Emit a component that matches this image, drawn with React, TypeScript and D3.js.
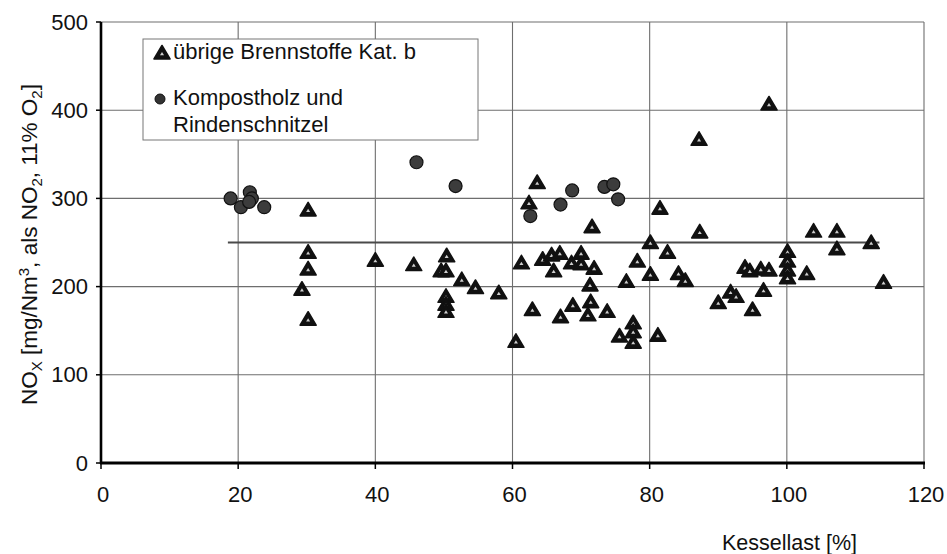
import React from "react";
import * as d3 from "d3";

// ---- data ----
const xTicks = [0, 20, 40, 60, 80, 100, 120];
const yTicks = [0, 100, 200, 300, 400, 500];

// übrige Brennstoffe Kat. b (triangles)
const triX = [
  30.2, 30.2, 30.2, 29.3, 30.2,
  40, 45.6, 50.4, 49.6, 50.3, 52.6, 54.6, 58,
  50.3, 50.3, 50.3,
  60.5, 61.3, 62.9, 63.6, 62.4,
  64.4, 65.7, 66.9, 66, 68.6, 70, 70,
  67, 68.8, 71.3, 71.4, 71, 73.8, 71.9, 71.6,
  76.6, 78.2, 75.6, 77.6, 77.6, 77.6, 81.2,
  80.1, 80.1, 82.6, 81.5, 84.2, 85.2, 87.3, 87.2,
  90, 91.8, 92.6, 95, 96.6,
  93.9, 94.6, 96.2, 97.4, 97.4,
  100.1, 100.1, 100.1, 100.1, 102.9,
  103.9, 107.3, 107.3, 112.3, 114.1,
];
const triY = [
  287, 239, 220, 197, 163,
  230, 225, 235, 218, 218, 208, 199, 193,
  189, 180, 172,
  138, 227, 174, 318, 295,
  231, 236, 238, 218, 227, 226, 238,
  166, 179, 202, 183, 168, 172, 221, 268,
  206, 229, 144, 159, 149, 137, 145,
  250, 214, 239, 289, 215, 207, 262, 367,
  182, 194, 189, 174, 196,
  222, 218, 220, 219, 407,
  240, 229, 219, 210, 215,
  263, 263, 243, 250, 205,
];

// Kompostholz und Rindenschnitzel (circles)
const circX = [18.9, 20.4, 21.7, 22, 21.6, 23.8, 46, 51.7, 62.6, 67, 68.7, 73.4, 74.7, 75.4];
const circY = [300, 290, 307, 300, 296, 290, 341, 314, 280, 293, 309, 313, 316, 299];

// mean line
const meanX = [18.5, 113.5];
const meanY = 250;

const legendLabels = ["übrige Brennstoffe Kat. b", "Kompostholz und", "Rindenschnitzel"];
const xTitle = "Kessellast [%]";

// ---- layout ----
const W = 947;
const H = 554;
const FONT = "'Liberation Sans', Arial, Helvetica, sans-serif";

const x = d3.scaleLinear().domain([0, 120]).range([101, 924]);
const y = d3.scaleLinear().domain([0, 500]).range([463, 22]);

const triPath = "M0,-7.5 L8,6 L-8,6 Z";
const innerTri = "M0,-1 L2,2.2 L-2,2.2 Z";

function Tri({ cx, cy }: { cx: number; cy: number }) {
  return (
    <g transform={`translate(${cx},${cy})`}>
      <path d={triPath} fill="#111" stroke="#111" strokeWidth={1.6} strokeLinejoin="round" />
      <path d={innerTri} fill="#cfcfcf" />
    </g>
  );
}

export default function App() {
  const lineGen = d3
    .line<number>()
    .x((d) => x(d))
    .y(() => y(meanY));

  return (
    <svg
      width={W}
      height={H}
      style={{ position: "absolute", left: 0, top: 0, background: "#fff" }}
      fontFamily={FONT}
    >
      <rect x={0} y={0} width={W} height={H} fill="#fff" />
      {/* grid */}
      {yTicks.filter((t) => t > 0).map((t) => (
        <line key={"gy" + t} x1={x(0)} x2={x(120)} y1={y(t)} y2={y(t)} stroke="#6e6e6e" strokeWidth={1.1} />
      ))}
      {xTicks.filter((t) => t > 0).map((t) => (
        <line key={"gx" + t} x1={x(t)} x2={x(t)} y1={y(0)} y2={y(500)} stroke="#6e6e6e" strokeWidth={1.1} />
      ))}

      {/* mean line */}
      <path d={lineGen(meanX) || ""} stroke="#4a4a4a" strokeWidth={1.8} fill="none" />

      {/* legend */}
      <rect x={143} y={39} width={335} height={101} fill="#fff" stroke="#777" strokeWidth={1} />
      <Tri cx={162} cy={53} />
      <circle cx={160} cy={99} r={5} fill="#333" stroke="#111" strokeWidth={1} />
      <text x={173} y={59} fontSize={22} fill="#111">{legendLabels[0]}</text>
      <text x={173} y={105} fontSize={22} fill="#111">{legendLabels[1]}</text>
      <text x={173} y={132} fontSize={22} fill="#111">{legendLabels[2]}</text>

      {/* circles */}
      {circX.map((d, i) => (
        <circle key={"c" + i} cx={x(d)} cy={y(circY[i])} r={6.5} fill="#3c3c3c" stroke="#111" strokeWidth={1.2} />
      ))}

      {/* triangles */}
      {triX.map((d, i) => (
        <Tri key={"t" + i} cx={x(d)} cy={y(triY[i])} />
      ))}

      {/* axes */}
      <line x1={x(0)} x2={x(0)} y1={y(0) + 1} y2={y(500)} stroke="#000" strokeWidth={2.6} />
      <line x1={x(0) - 1} x2={x(120) + 1} y1={y(0)} y2={y(0)} stroke="#000" strokeWidth={3} />
      {yTicks.map((t) => (
        <g key={"yt" + t}>
          <line x1={x(0) - 5} x2={x(0)} y1={y(t)} y2={y(t)} stroke="#000" strokeWidth={1.5} />
          <text x={88} y={y(t) + 7.5} fontSize={22} textAnchor="end" fill="#111">{t}</text>
        </g>
      ))}
      {xTicks.map((t) => (
        <g key={"xt" + t}>
          <line x1={x(t)} x2={x(t)} y1={y(0)} y2={y(0) + 6} stroke="#000" strokeWidth={1.5} />
          <text x={x(t) + 2} y={502} fontSize={22} textAnchor="middle" fill="#111">{t}</text>
        </g>
      ))}

      {/* axis titles */}
      <text x={722} y={550} fontSize={21.5} fill="#111">{xTitle}</text>
      <text transform="translate(37,405) rotate(-90)" fontSize={22.5} fill="#111">
        <tspan>NO</tspan>
        <tspan dy={5} fontSize={15}>X</tspan>
        <tspan dy={-5}> [mg/Nm</tspan>
        <tspan dy={-8} fontSize={15}>3</tspan>
        <tspan dy={8}>, als NO</tspan>
        <tspan dy={5} fontSize={15}>2</tspan>
        <tspan dy={-5}>, 11% O</tspan>
        <tspan dy={5} fontSize={15}>2</tspan>
        <tspan dy={-5}>]</tspan>
      </text>
    </svg>
  );
}
